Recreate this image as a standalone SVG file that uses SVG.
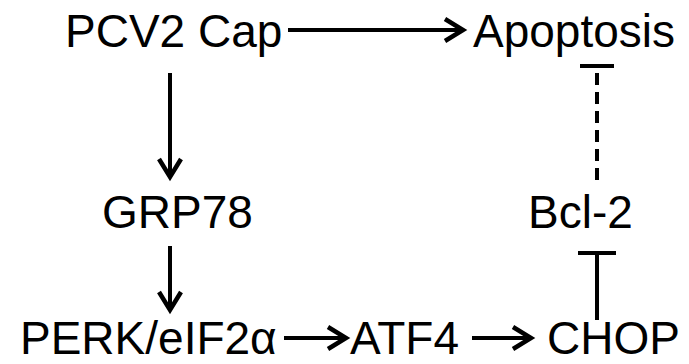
<svg xmlns="http://www.w3.org/2000/svg" width="689" height="364" viewBox="0 0 689 364">
<style>
text{font-family:"Liberation Sans",Arial,sans-serif;font-size:46px;fill:#000}
.c{stroke:#000;stroke-width:4;fill:none}
.d{stroke-dasharray:12 7}
</style>
<defs>
<marker id="ah" markerUnits="userSpaceOnUse" markerWidth="30" markerHeight="30" viewBox="-22 -15 26 30" refX="0" refY="0" orient="auto">
<path d="M-18,-11 L0,0 L-18,11" fill="none" stroke="#000" stroke-width="4.5" stroke-linecap="butt" stroke-linejoin="miter"/>
</marker>
</defs>
<rect width="689" height="364" fill="#fff"/>
<g id="n-pcv2"><text x="65" y="47">PCV2 Cap</text></g>
<g id="n-apoptosis"><text x="473" y="47">Apoptosis</text></g>
<g id="n-grp78"><text x="102" y="228">GRP78</text></g>
<g id="n-bcl2"><text x="528" y="228">Bcl-2</text></g>
<g id="n-perk"><text x="20" y="354">PERK/eIF2α</text></g>
<g id="n-atf4"><text x="350" y="354">ATF4</text></g>
<g id="n-chop"><text x="547" y="354">CHOP</text></g>
<g id="connectors">
<line class="c" x1="288" y1="30" x2="463" y2="30" marker-end="url(#ah)"/>
<line class="c" x1="170" y1="73" x2="170" y2="177" marker-end="url(#ah)"/>
<line class="c" x1="170" y1="246" x2="170" y2="310" marker-end="url(#ah)"/>
<line class="c" x1="284" y1="338" x2="346" y2="338" marker-end="url(#ah)"/>
<line class="c" x1="472" y1="338" x2="531" y2="338" marker-end="url(#ah)"/>
<line class="c d" x1="597" y1="180" x2="597" y2="66"/>
<line class="c" x1="580" y1="66" x2="614" y2="66"/>
<line class="c" x1="597" y1="320" x2="597" y2="253"/>
<line class="c" x1="578" y1="253" x2="616" y2="253"/>
</g>
</svg>
